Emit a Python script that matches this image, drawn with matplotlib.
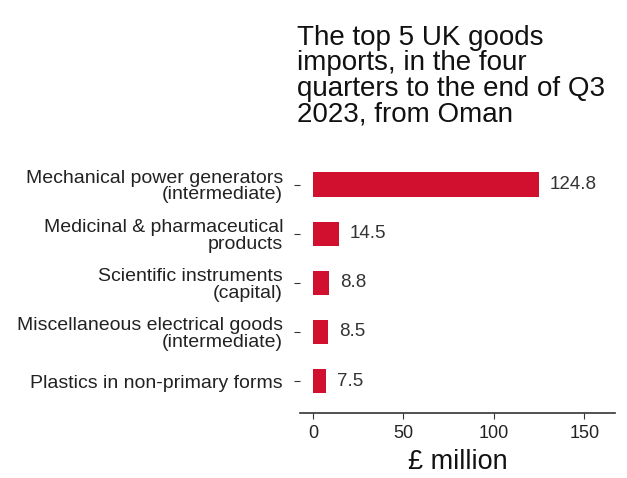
import matplotlib
matplotlib.use("Agg")
import matplotlib.pyplot as plt

categories = [
    "Mechanical power generators\n(intermediate)",
    "Medicinal & pharmaceutical\nproducts",
    "Scientific instruments\n(capital)",
    "Miscellaneous electrical goods\n(intermediate)",
    "Plastics in non-primary forms",
]
values = [124.8, 14.5, 8.8, 8.5, 7.5]
xticks = [0, 50, 100, 150]

plt.rcParams['font.family'] = ['Liberation Sans', 'DejaVu Sans']

fig = plt.figure(figsize=(6.27, 4.78), dpi=100)
ax = fig.add_axes([0.478, 0.136, 0.503, 0.529])

pos = list(range(len(categories)))
ax.barh(pos, values, height=0.5, color='#D0102E')
for p, v in zip(pos, values):
    ax.text(v + 6, p, f"{v}", va='center', ha='left', fontsize=13.5, color='#333333')

ax.set_ylim(4.65, -0.5)
ax.set_xlim(-7.3, 167)
ax.set_yticks(pos)
ax.set_yticklabels(categories, fontsize=14, color='#222222', linespacing=0.98)
ax.set_xticks(xticks)
ax.set_xticklabels([str(t) for t in xticks], fontsize=13, color='#222222')
for s in ['top', 'right', 'left']:
    ax.spines[s].set_visible(False)
ax.spines['bottom'].set_color('#333333')
ax.spines['bottom'].set_linewidth(1.2)
ax.tick_params(axis='y', length=4, pad=8, color='#333333')
ax.tick_params(axis='x', length=4, pad=5, color='#333333')
ax.set_xlabel("£ million", fontsize=19.5, color='#111111', labelpad=5)

fig.text(0.474, 0.948, "The top 5 UK goods\nimports, in the four\nquarters to the end of Q3\n2023, from Oman",
         fontsize=20, ha='left', va='top', color='#111111', linespacing=0.97)

fig.savefig("out.png", dpi=100)
